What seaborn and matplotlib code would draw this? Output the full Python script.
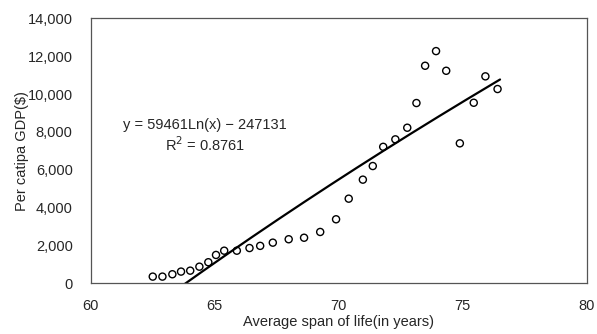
import numpy as np
import pandas as pd
import matplotlib
matplotlib.use("Agg")
import matplotlib.pyplot as plt
import seaborn as sns
from matplotlib.ticker import FuncFormatter

# life expectancy (years) vs per capita GDP ($)
life_span = [62.50, 62.89, 63.29, 63.64, 64.01, 64.38, 64.74, 65.05, 65.38, 65.89,
             66.40, 66.83, 67.34, 67.98, 68.60, 69.25, 69.89, 70.40, 70.97, 71.37,
             71.79, 72.28, 72.76, 73.13, 73.48, 73.92, 74.33, 74.88, 75.44, 75.91,
             76.40]
gdp = [350, 350, 475, 615, 665, 875, 1110, 1495, 1720, 1720,
       1860, 1975, 2145, 2325, 2405, 2710, 3380, 4470, 5475, 6195,
       7210, 7605, 8220, 9525, 11495, 12270, 11230, 7395, 9540, 10935,
       10265]

# logarithmic trendline shown on the chart
coef_a = 59461
coef_b = -247131
r_squared = 0.8761

df = pd.DataFrame({"life": life_span, "gdp": gdp})
trend_x = np.linspace(min(life_span), max(life_span) + 0.1, 200)
trend = pd.DataFrame({"life": trend_x, "gdp": coef_a * np.log(trend_x) + coef_b})

sns.set_style("white")
plt.rcParams["font.family"] = ["Liberation Sans", "DejaVu Sans"]

fig = plt.figure(figsize=(5.97, 3.34), dpi=100)
ax = fig.add_axes([0.152, 0.152, 0.831, 0.793])

sns.lineplot(data=trend, x="life", y="gdp", ax=ax, color="black", linewidth=1.6)
sns.scatterplot(data=df, x="life", y="gdp", ax=ax, s=26, marker="o",
                facecolor="none", edgecolor="black", linewidth=1.0)

ax.set_xlim(60, 80)
ax.set_ylim(0, 14000)
ax.set_xticks([60, 65, 70, 75, 80])
ax.set_yticks(np.arange(0, 14001, 2000))
ax.yaxis.set_major_formatter(FuncFormatter(lambda v, p: f"{int(v):,}"))
ax.tick_params(direction="in", length=3, width=0.8, color="#999999",
               labelsize=10.5)
ax.tick_params(axis="x", pad=11)
ax.tick_params(axis="y", pad=13)
for s in ax.spines.values():
    s.set_color("#555555")
    s.set_linewidth(0.9)

ax.set_xlabel("Average span of life(in years)", fontsize=10.5, labelpad=2)
ax.set_ylabel("Per catipa GDP($)", fontsize=10.5)
ax.yaxis.set_label_coords(-0.124, 0.5)

ax.text(64.6, 8360, f"y = {coef_a}Ln(x) \u2212 {abs(coef_b)}", ha="center",
        va="center", fontsize=10.5)
ax.text(64.6, 7300, f"R$^2$ = {r_squared}", ha="center", va="center", fontsize=10.5)

plt.savefig("out.png", dpi=100)
